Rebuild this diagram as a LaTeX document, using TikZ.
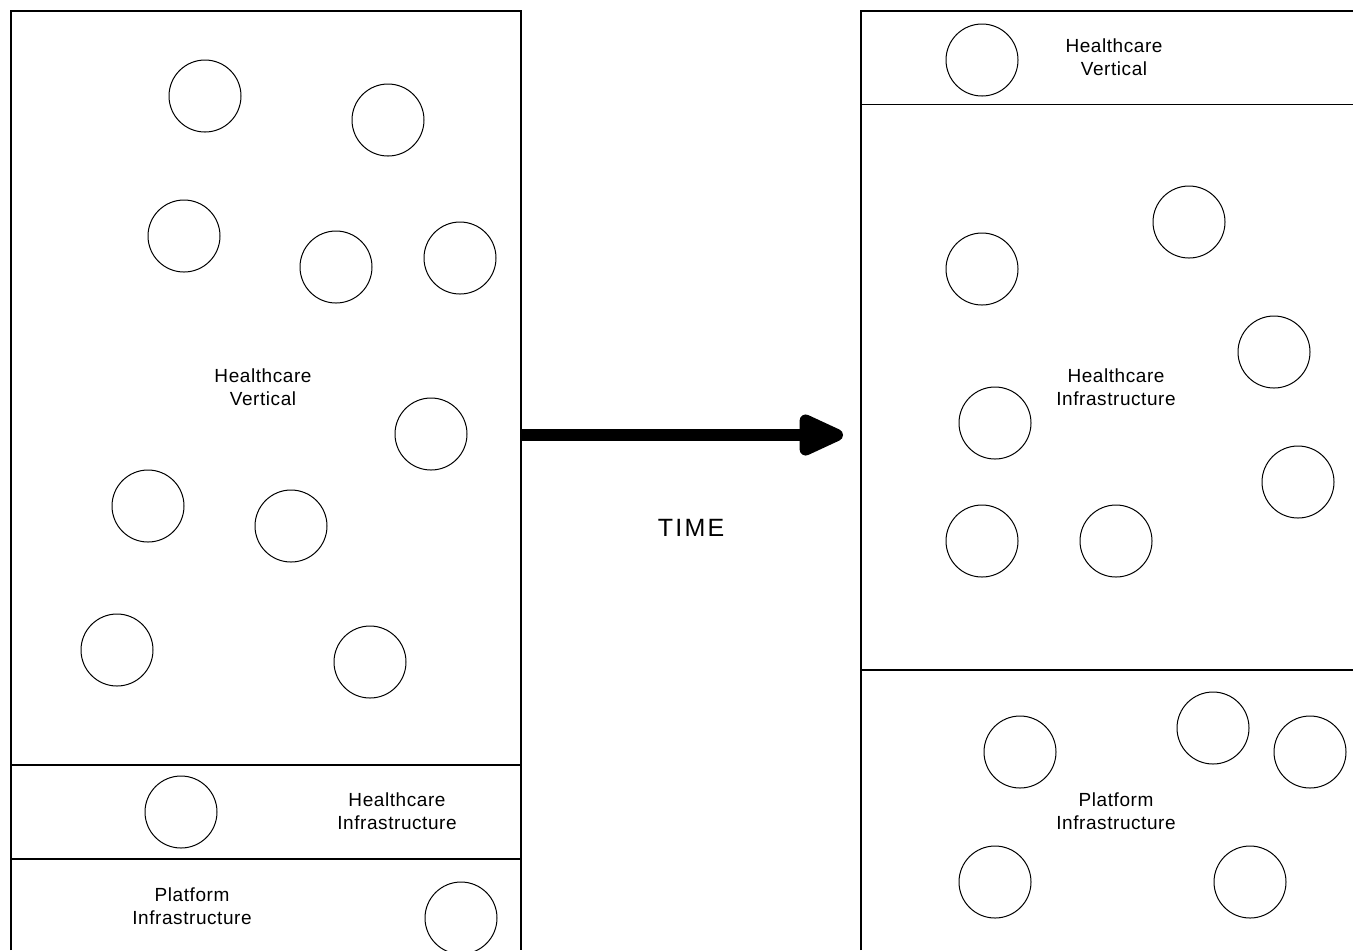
\documentclass[tikz,border=0pt]{standalone}
\usepackage{fontspec}
\newfontfamily\lblfont{Liberation Sans}[LetterSpace=3]
\newfontfamily\timefont{Liberation Sans}[LetterSpace=9]
\usetikzlibrary{arrows.meta}

\begin{document}
\begin{tikzpicture}[x=0.5pt, y=-0.5pt,
    % Styles
    panel/.style={draw, line width=0.65pt},
    org/.style={draw, circle, minimum size=36pt, inner sep=0pt, line width=0.5pt},
    lbl/.style={font=\lblfont\fontsize{9.5}{11.5}\selectfont, align=center},
    arrow/.style={-{Triangle[length=26.5pt, width=22pt, round]}, line width=6pt},
  ]
  \useasboundingbox (0,0) rectangle (1353,950);

  % Left panel (before)
  \draw[panel] (11,950) |- (521,11) -- (521,950);
  \draw[panel] (11,765) -- (521,765);
  \draw[panel] (11,859) -- (521,859);

  \node[lbl] (lvert) at (263,387) {Healthcare\\Vertical};
  \node[lbl] (linfra) at (397,811) {Healthcare\\Infrastructure};
  \node[lbl] (lplat) at (192,906) {Platform\\Infrastructure};

  \foreach \x/\y [count=\i] in {205/96, 388/120, 184/236, 336/267, 460/258,
      431/434, 148/506, 291/526, 117/650, 370/662, 181/812, 461/918}
    \node[org] (lorg\i) at (\x,\y) {};

  % Right panel (after)
  \draw[panel] (861,950) |- (1353,11);
  \draw[panel] (861,104.5) -- (1353,104.5);
  \draw[panel] (861,670) -- (1353,670);

  \node[lbl] (rvert) at (1114,57) {Healthcare\\Vertical};
  \node[lbl] (rinfra) at (1116,387) {Healthcare\\Infrastructure};
  \node[lbl] (rplat) at (1116,811) {Platform\\Infrastructure};

  \foreach \x/\y [count=\i] in {982/60, 1189/222, 982/269, 1274/352, 995/423,
      1298/482, 982/541, 1116/541, 1020/752, 1213/728, 1310/752, 995/882, 1250/882}
    \node[org] (rorg\i) at (\x,\y) {};

  % Arrow
  \coordinate (tstart) at (521,435);
  \coordinate (tend) at (843,435);
  \draw[arrow] (tstart) -- (tend);
  \node[font=\timefont\fontsize{12.5}{14}\selectfont] (time) at (691,528) {TIME};

\end{tikzpicture}
\end{document}
